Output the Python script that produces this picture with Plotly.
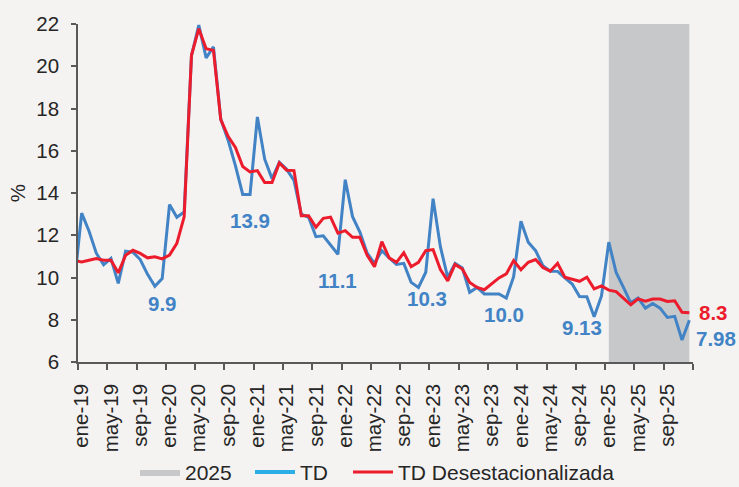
import plotly.graph_objects as go

# ---------------- data ----------------
month_abbr = ["ene", "feb", "mar", "abr", "may", "jun", "jul", "ago", "sep", "oct", "nov", "dic"]
years = [19, 20, 21, 22, 23, 24, 25]
# previous month (dic-18) is included so the lines enter from the left edge, as in the source
months = ["dic-18"] + [f"{m}-{y}" for y in years for m in month_abbr]

td = [9.7,
      13.05, 12.2, 11.15, 10.6, 10.9, 9.72, 11.25, 11.2, 10.85, 10.15, 9.58, 9.95,
      13.45, 12.85, 13.1, 20.5, 21.95, 20.4, 20.92, 17.5, 16.5, 15.3, 13.93, 13.93,
      17.6, 15.6, 14.68, 15.45, 15.12, 14.6, 13.0, 12.85, 11.93, 11.97, 11.55, 11.1,
      14.63, 12.88, 12.15, 11.15, 10.67, 11.27, 10.93, 10.62, 10.67, 9.77, 9.53, 10.25,
      13.73, 11.45, 10.0, 10.67, 10.45, 9.3, 9.53, 9.22, 9.22, 9.22, 9.03, 10.04,
      12.66, 11.67, 11.27, 10.56, 10.3, 10.29, 9.98, 9.69, 9.1, 9.09, 8.14, 9.13,
      11.67, 10.24, 9.53, 8.8, 9.03, 8.55, 8.77, 8.55, 8.11, 8.16, 7.04, 7.98]

td_sa = [10.8,
         10.74, 10.82, 10.9, 10.82, 10.82, 10.22, 11.05, 11.29, 11.14, 10.93, 10.98, 10.88,
         11.06, 11.62, 12.87, 20.52, 21.78, 20.83, 20.75, 17.48, 16.68, 16.16, 15.25, 15.0,
         15.06, 14.5, 14.5, 15.42, 15.08, 15.06, 12.92, 12.92, 12.38, 12.8, 12.86, 12.1,
         12.22, 11.9, 11.9, 11.05, 10.51, 11.7, 10.93, 10.72, 11.17, 10.51, 10.72, 11.27,
         11.32, 10.38, 9.84, 10.62, 10.4, 9.77, 9.53, 9.42, 9.69, 9.98, 10.17, 10.8,
         10.37, 10.72, 10.85, 10.47, 10.3, 10.67, 10.01, 9.93, 9.82, 10.01, 9.46, 9.6,
         9.4, 9.33, 9.04, 8.71, 8.99, 8.88, 8.98, 8.98, 8.87, 8.9, 8.35, 8.33]

highlight_year = "25"
highlight_value = 22  # height of the 2025 shading series

dec_labels_td = {"dic-19": "9.9", "dic-20": "13.9", "dic-21": "11.1", "dic-22": "10.3",
                 "dic-23": "10.0", "dic-24": "9.13", "dic-25": "7.98"}
dec_labels_sa = {"dic-25": "8.3"}

tick_months = [f"{m}-{y}" for y in years for m in ("ene", "may", "sep")]

# ---------------- build ----------------
xi = list(range(-1, len(months) - 1))          # ene-19 -> 0
pos = dict(zip(months, xi))

BLUE = "#4283C6"
RED = "#EC1C2C"
CYAN = "#2AAEE5"
GRAY = "#C7C8CA"
BG = "#F4F3F1"
AXIS = "#595959"
TXT = "#262626"
FONT = "Liberation Sans, Arial, sans-serif"

band_x = [pos[m] for m in months if m.endswith("-" + highlight_year)]
band_y = [highlight_value] * len(band_x)

fig = go.Figure()
fig.add_trace(go.Scatter(x=band_x, y=band_y, name="2025", mode="lines",
                         line=dict(width=0, color=GRAY), fill="tozeroy",
                         fillcolor=GRAY, hoverinfo="skip", legendwidth=60))
fig.add_trace(go.Scatter(x=xi, y=td, name="TD", mode="lines",
                         line=dict(color=BLUE, width=3), showlegend=False))
fig.add_trace(go.Scatter(x=[None], y=[None], name="TD", mode="lines",
                         line=dict(color=CYAN, width=4), legendwidth=43))
fig.add_trace(go.Scatter(x=xi, y=td_sa, name="TD Desestacionalizada", mode="lines",
                         line=dict(color=RED, width=3)))

ann = []
td_map = dict(zip(months, td))
sa_map = dict(zip(months, td_sa))
offsets = {"dic-19": (0, -25), "dic-20": (0, -26), "dic-21": (0, -26), "dic-22": (1, -26),
           "dic-23": (-10, -38), "dic-24": (-19, -32), "dic-25": (27, -18)}
for m, t in dec_labels_td.items():
    dx, dy = offsets[m]
    ann.append(dict(x=pos[m], y=td_map[m], text=t, showarrow=False, xref="x", yref="y",
                    xshift=dx, yshift=dy, xanchor="center", yanchor="middle",
                    font=dict(family=FONT, size=20.5, color=BLUE, weight="bold")))
for m, t in dec_labels_sa.items():
    ann.append(dict(x=pos[m], y=sa_map[m], text=t, showarrow=False, xref="x", yref="y",
                    xshift=24, yshift=0, xanchor="center", yanchor="middle",
                    font=dict(family=FONT, size=20.5, color=RED, weight="bold")))

fig.update_layout(
    width=739, height=487,
    margin=dict(l=78, r=46, t=24, b=125, autoexpand=False),
    paper_bgcolor=BG, plot_bgcolor=BG,
    font=dict(family=FONT, size=20.5, color=TXT),
    showlegend=True,
    legend=dict(orientation="h", x=(135 - 78) / 615, xanchor="left", y=-0.266, yanchor="top",
                font=dict(family=FONT, size=21, color=TXT), bgcolor="rgba(0,0,0,0)",
                itemwidth=40),
    annotations=ann,
)
fig.update_xaxes(
    automargin=False,
    range=[-0.5, len(months) - 1.5],
    tickmode="array", tickvals=[pos[m] for m in tick_months], ticktext=tick_months,
    tickangle=-90, ticks="", showgrid=False, zeroline=False,
    showline=True, linecolor=AXIS, linewidth=1.5, ticklabelstandoff=12,
    tickfont=dict(family=FONT, size=20.5, color=TXT),
    minor=dict(tickmode="array",
               tickvals=[pos[m] - 0.5 for m in tick_months] + [xi[-1] + 0.5],
               ticks="outside", ticklen=6, tickcolor=AXIS, tickwidth=1.5, showgrid=False),
)
fig.update_yaxes(
    automargin=False,
    range=[6, 22], tickmode="linear", tick0=6, dtick=2,
    ticks="outside", ticklen=5, tickcolor=AXIS, tickwidth=1.5, ticklabelstandoff=8,
    showgrid=False, zeroline=False, showline=True, linecolor=AXIS, linewidth=1.5,
    tickfont=dict(family=FONT, size=20.5, color=TXT),
    title=dict(text="%", font=dict(family=FONT, size=20.5, color=TXT), standoff=5),
)

fig.write_html("out.html", config={"displayModeBar": False},
               post_script="document.body.style.margin='0';document.body.style.padding='0';"
                           "document.body.style.overflow='hidden';")
